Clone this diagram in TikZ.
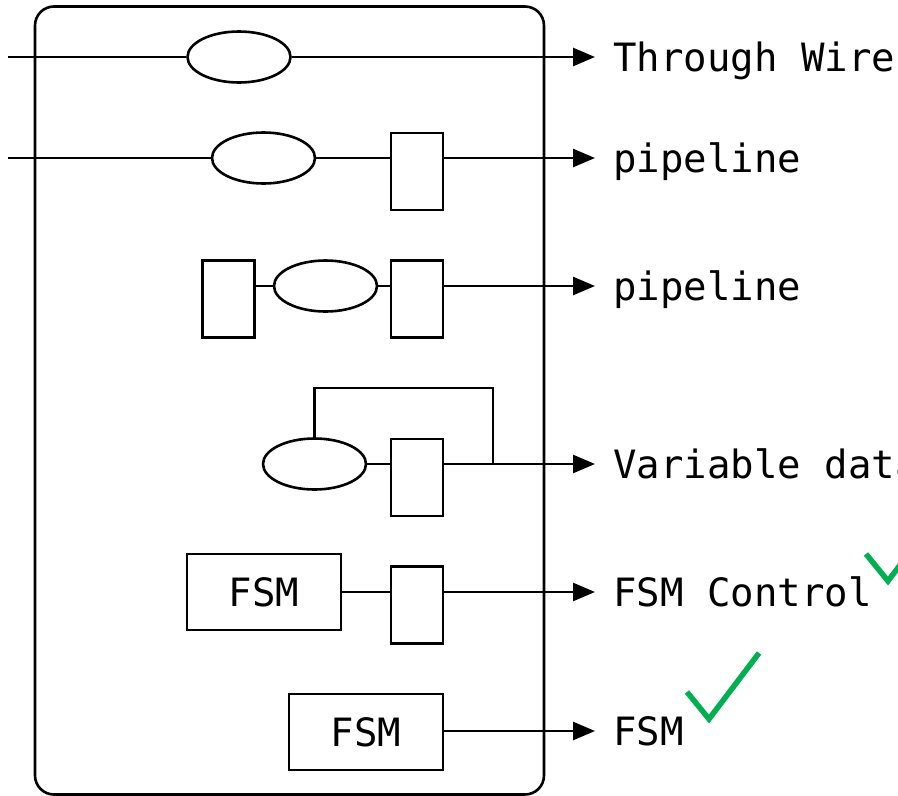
\documentclass[tikz,border=0pt]{standalone}
\usepackage{fontspec}
\setmonofont{DejaVu Sans Mono}
\usetikzlibrary{shapes.geometric,arrows.meta}
\definecolor{okgreen}{RGB}{0,176,80}
\begin{document}
\begin{tikzpicture}[x=1pt,y=-1pt,line width=2.7pt,
  reg/.style={draw,rectangle,minimum width=52pt,minimum height=77pt,inner sep=0pt,line width=2.6pt},
  logic/.style={draw,ellipse,minimum width=103pt,minimum height=51pt,inner sep=0pt,line width=2.6pt},
  fsmbox/.style={draw,rectangle,minimum width=154pt,minimum height=76pt,inner sep=0pt,line width=2.6pt,
    font=\ttfamily\fontsize{39}{39}\selectfont},
  lbl/.style={anchor=base west,inner sep=0pt,font=\ttfamily\fontsize{39}{39}\selectfont},
  outarrow/.style={-{Triangle[length=22pt,width=18pt]}},
  tick/.style={draw=okgreen,line width=5.5pt,line cap=butt,line join=miter}]
\useasboundingbox (0,0) rectangle (898,796);

% module boundary
\node[draw,rounded corners=19pt,minimum width=509pt,minimum height=788pt,inner sep=0pt,line width=2.6pt]
  (module) at (289.5,400.5) {};

% row 1: through wire
\coordinate (in1) at (8,57);
\node[logic] (l1) at (239,57) {};
\coordinate (o1) at (595,57);
\draw (in1) -- (l1);
\draw[outarrow] (l1) -- (o1);
\node[lbl] (t1) at (612,71) {Through Wire};

% row 2: logic then register
\coordinate (in2) at (8,158);
\node[logic] (l2) at (263.5,158) {};
\node[reg] (r2) at (417,171.5) {};
\coordinate (o2) at (595,158);
\draw (in2) -- (l2);
\draw (l2) -- (l2 -| r2.west);
\draw[outarrow] (r2.east |- o2) -- (o2);
\node[lbl] (t2) at (612,172) {pipeline};

% row 3: register, logic, register
\node[reg] (r3a) at (228.5,299) {};
\node[logic] (l3) at (325.5,286) {};
\node[reg] (r3b) at (417,299) {};
\coordinate (o3) at (595,286);
\draw (r3a.east |- l3) -- (l3);
\draw (l3) -- (l3 -| r3b.west);
\draw[outarrow] (r3b.east |- o3) -- (o3);
\node[lbl] (t3) at (612,300) {pipeline};

% row 4: logic with feedback from the output
\node[logic] (l4) at (314.5,464) {};
\node[reg] (r4) at (417,477.5) {};
\coordinate (fb) at (493,464);
\coordinate (o4) at (595,464);
\draw (l4) -- (l4 -| r4.west);
\draw[outarrow] (r4.east |- o4) -- (o4);
\draw (fb) -- (493,388) -| (l4.north);
\node[lbl] (t4) at (612,478) {Variable data};

% row 5: FSM driving a register
\node[fsmbox] (f5) at (264,592) {FSM};
\node[reg] (r5) at (417,605) {};
\coordinate (o5) at (595,592);
\draw (f5) -- (f5 -| r5.west);
\draw[outarrow] (r5.east |- o5) -- (o5);
\node[lbl] (t5) at (612,606) {FSM Control};

% row 6: FSM output
\node[fsmbox] (f6) at (366,732) {FSM};
\coordinate (o6) at (595,731);
\draw[outarrow] (f6.east |- o6) -- (o6);
\node[lbl] (t6) at (612,745) {FSM};

% check marks
\draw[tick] (866,554) -- (888,581) -- (938,515);
\draw[tick] (687,692) -- (709,719) -- (759,653);
\end{tikzpicture}
\end{document}
